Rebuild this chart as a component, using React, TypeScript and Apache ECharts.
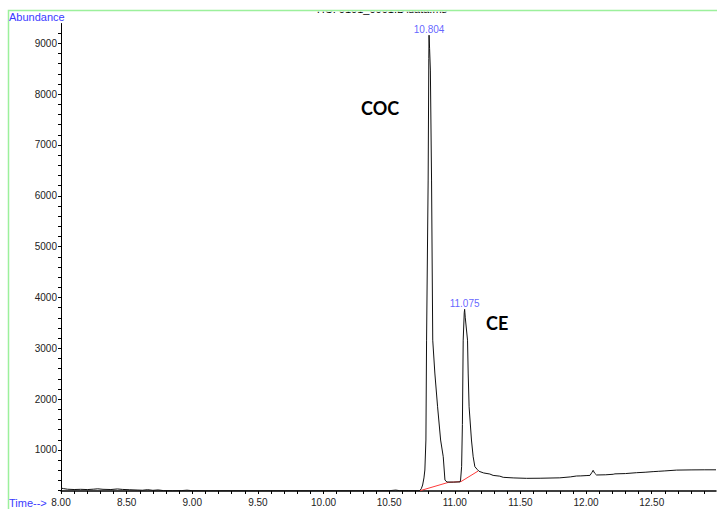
import React, { useEffect, useRef } from "react";
import * as echarts from "echarts";

// Chromatogram (TIC)
const times: number[] = [
  8.0, 8.02, 8.05, 8.1, 8.15, 8.2, 8.25, 8.28, 8.32, 8.38, 8.43, 8.47, 8.52, 8.58, 8.62, 8.66, 8.7, 8.74,
  8.78, 8.85, 8.92, 8.96, 9.0, 9.1, 9.3, 9.5, 9.7, 9.9, 10.1, 10.3, 10.5, 10.55, 10.58, 10.65, 10.72,
  10.734, 10.745, 10.755, 10.765, 10.772, 10.78, 10.785, 10.797, 10.802, 10.804, 10.808, 10.814, 10.823,
  10.832, 10.848, 10.869, 10.892, 10.912, 10.925, 10.94, 10.99, 11.04, 11.044, 11.052, 11.058, 11.064,
  11.072, 11.075, 11.08, 11.097, 11.102, 11.109, 11.127, 11.14, 11.153, 11.17, 11.185, 11.22, 11.267,
  11.292, 11.343, 11.369, 11.45, 11.547, 11.65, 11.8, 11.88, 11.927, 11.96, 12.0, 12.03, 12.045, 12.054,
  12.065, 12.08, 12.15, 12.207, 12.22, 12.3, 12.385, 12.45, 12.511, 12.55, 12.6, 12.69, 12.8, 12.9, 12.99,
];
const abundance: number[] = [
  250, 240, 228, 222, 226, 221, 229, 236, 226, 222, 233, 224, 218, 212, 208, 219, 206, 214,
  201, 198, 201, 209, 199, 197, 198, 197, 198, 197, 198, 198, 199, 211, 200, 199, 199,
  201, 240, 311, 450, 606, 1196, 3160, 6310, 8700, 9160, 8900, 8474, 6310,
  3160, 2514, 1850, 1196, 867, 409, 370, 368, 372, 409, 671, 1500, 3160,
  3700, 3767, 3600, 3160, 2514, 1850, 1196, 867, 671, 620, 580, 548, 527,
  500, 485, 462, 450, 442, 444, 452, 470, 488, 490, 496, 500, 560, 600,
  545, 508, 512, 522, 530, 536, 553, 562, 574, 580, 588, 604, 608, 610, 610,
];

// Integration baseline (red)
const baselineTimes: number[] = [10.734, 10.95, 11.047, 11.178];
const baselineValues: number[] = [198, 362, 378, 586];

// Labelled peaks
const peakTimes: number[] = [10.804, 11.075];
const peakValues: number[] = [9160, 3767];
const compoundNames: string[] = ["COC", "CE"];

// Axis ticks / labels
const xLabelValues: number[] = [8.0, 8.5, 9.0, 9.5, 10.0, 10.5, 11.0, 11.5, 12.0, 12.5];
const xTickValues: number[] = Array.from({ length: 50 }, (_, i) => Number((8 + i * 0.1).toFixed(1)));
const yLabelValues: number[] = [1000, 2000, 3000, 4000, 5000, 6000, 7000, 8000, 9000];
const yTickValues: number[] = Array.from({ length: 46 }, (_, i) => 200 + i * 200);

const titleText = "TIC: 0101_0001.D\\data.ms";

export default function App() {
  const ref = useRef<HTMLDivElement>(null);

  useEffect(() => {
    document.body.style.margin = "0";
    if (!ref.current) return;
    const chart = echarts.init(ref.current, null, { renderer: "svg" });

    const blue = "#3a3aff";
    const font = "Liberation Sans, Arial, sans-serif";

    const option: any = {
      animation: false,
      backgroundColor: "#ffffff",
      grid: { left: 61, top: 23.5, right: 1, bottom: 18, containLabel: false },
      xAxis: {
        type: "value",
        min: 8,
        max: 12.99,
        axisLine: { onZero: false, lineStyle: { color: "#000", width: 1.5 } },
        axisTick: { show: true, customValues: xTickValues, length: 3, lineStyle: { color: "#000" } },
        axisLabel: {
          customValues: xLabelValues,
          formatter: (v: number) => v.toFixed(2),
          fontSize: 10,
          fontFamily: font,
          color: "#222",
          margin: 6,
        },
        splitLine: { show: false },
      },
      yAxis: {
        type: "value",
        min: 193,
        max: 9390,
        axisLine: { show: true, onZero: false, lineStyle: { color: "#000" } },
        axisTick: { show: true, customValues: yTickValues, length: 3, lineStyle: { color: "#000" } },
        axisLabel: {
          customValues: yLabelValues,
          formatter: (v: number) => String(Math.round(v)),
          fontSize: 10,
          fontFamily: font,
          color: "#222",
          margin: 4,
        },
        splitLine: { show: false },
      },
      series: [
        {
          type: "line",
          data: baselineTimes.map((t, i) => [t, baselineValues[i]]),
          showSymbol: false,
          lineStyle: { color: "#ff3a3a", width: 1 },
          z: 2,
          silent: true,
        },
        {
          type: "line",
          data: times.map((t, i) => [t, abundance[i]]),
          showSymbol: false,
          lineStyle: { color: "#111", width: 1 },
          z: 3,
          silent: true,
        },
        {
          type: "scatter",
          data: peakTimes.map((t, i) => [t, peakValues[i]]),
          symbolSize: 0,
          z: 4,
          label: {
            show: true,
            position: "top",
            distance: 1,
            formatter: (p: any) => p.value[0].toFixed(3),
            fontSize: 10,
            fontFamily: font,
            color: blue,
          },
          silent: true,
        },
      ],
      graphic: [
        {
          type: "group",
          z: 1,
          children: [
            {
              type: "text",
              x: 315,
              y: 14,
              z: 1,
              style: { text: titleText, fontSize: 11, fontFamily: font, fill: "#000", verticalAlign: "bottom" },
            },
            { type: "rect", shape: { x: 0, y: 0, width: 717, height: 11.8 }, z: 5, style: { fill: "#fff" } },
          ],
        },
        {
          type: "rect",
          shape: { x: 8.5, y: 10.5, width: 720, height: 510 },
          z: 6,
          style: { fill: "none", stroke: "#9cf09c", lineWidth: 1.5 },
        },
        {
          type: "text",
          x: 9,
          y: 16.5,
          z: 7,
          style: { text: "Abundance", fontSize: 11, fontFamily: font, fill: blue, verticalAlign: "middle" },
        },
        {
          type: "text",
          x: 9,
          y: 503,
          z: 7,
          style: { text: "Time-->", fontSize: 11, fontFamily: font, fill: blue, verticalAlign: "middle" },
        },
        {
          type: "text",
          x: 361,
          y: 108,
          z: 7,
          style: {
            text: compoundNames[0],
            fontSize: 18,
            fontWeight: "bold",
            fontFamily: "Lato, sans-serif",
            fill: "#000",
            verticalAlign: "middle",
          },
        },
        {
          type: "text",
          x: 486,
          y: 323,
          z: 7,
          style: {
            text: compoundNames[1],
            fontSize: 18,
            fontWeight: "bold",
            fontFamily: "Lato, sans-serif",
            fill: "#000",
            verticalAlign: "middle",
          },
        },
      ],
    };

    chart.setOption(option);
    return () => chart.dispose();
  }, []);

  return <div ref={ref} style={{ width: 717, height: 509 }} />;
}
